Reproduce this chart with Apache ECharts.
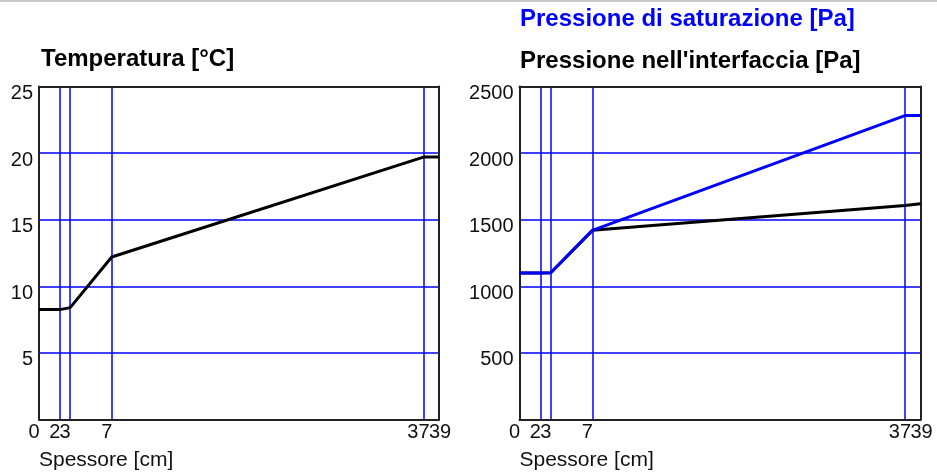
<!DOCTYPE html>
<html><head><meta charset="utf-8">
<script src="https://cdn.jsdelivr.net/npm/echarts@6/dist/echarts.min.js"></script>
<style>html,body{margin:0;padding:0;background:#fff}#c{width:937px;height:474px}</style>
</head><body><div id="c"></div><script>
// Layer boundary positions (cm) and their printed labels
const thickness = [0, 2, 3, 7, 37, 38.5];
const thicknessLabels = ['0', '2', '3', '7', '37', '39'];
const layerBoundaries = [2, 3, 7, 37];
// Series values at each boundary
const temperature = [8.25, 8.25, 8.4, 12.2, 19.7, 19.7];
const saturationPressure = [1100, 1100, 1102, 1420, 2282, 2282];
const interfacePressure = [1100, 1100, 1102, 1420, 1607, 1620];
// Axis ranges
const tempMax = 25, tempStep = 5;
const pressMax = 2500, pressStep = 500;

const FONT = "'Liberation Sans', Arial, sans-serif";
const BLUE = '#0000ff';
const AXIS = '#222';
const X_MAX = thickness[thickness.length - 1];

const pairs = arr => thickness.map((x, i) => [x, arr[i]]);
const labelOf = v => { const i = thickness.indexOf(v); return i >= 0 ? thicknessLabels[i] : ''; };

function xAxes(gi) {
  return [
    {
      gridIndex: gi, type: 'value', min: 0, max: X_MAX, position: 'bottom',
      axisLine: { show: true, onZero: false, lineStyle: { color: AXIS, width: 2 } },
      axisTick: { show: false }, splitLine: { show: false },
      axisLabel: {
        customValues: thickness.slice(0, -1), formatter: labelOf,
        fontFamily: FONT, fontSize: 20, color: '#111', margin: 3, padding: [0, 10, 0, 0],
        hideOverlap: false
      },
      name: 'Spessore [cm]', nameLocation: 'start', nameGap: 0,
      nameTextStyle: { fontFamily: FONT, fontSize: 21, color: '#111', align: 'left', verticalAlign: 'top', padding: [30, 0, 0, 0] },
      z: 3
    },
    {
      gridIndex: gi, type: 'value', min: 0, max: X_MAX, position: 'top',
      axisLine: { show: true, onZero: false, lineStyle: { color: AXIS, width: 2 } },
      axisTick: { show: false }, axisLabel: { show: false }, splitLine: { show: false }, z: 3
    },
    {
      gridIndex: gi, type: 'value', min: 0, max: X_MAX, position: 'bottom',
      axisLine: { show: false }, axisTick: { show: false }, splitLine: { show: false },
      axisLabel: {
        customValues: thickness.slice(-1), formatter: labelOf,
        fontFamily: FONT, fontSize: 20, color: '#111', margin: 3, padding: [0, 0, 0, 2]
      },
      z: 3
    }
  ];
}
function yAxes(gi, max, step) {
  return [
    {
      gridIndex: gi, type: 'value', min: 0, max: max, interval: step, position: 'left',
      axisLine: { show: true, onZero: false, lineStyle: { color: AXIS, width: 2 } },
      axisTick: { show: false },
      axisLabel: { showMinLabel: false, formatter: v => String(v), fontFamily: FONT, fontSize: 20, color: '#111', margin: 6, verticalAlign: 'top', lineHeight: 14 },
      splitLine: { show: true, lineStyle: { color: BLUE, width: 1.5 } }, z: 3
    },
    {
      gridIndex: gi, type: 'value', min: 0, max: max, interval: step, position: 'right',
      axisLine: { show: true, onZero: false, lineStyle: { color: AXIS, width: 2 } },
      axisTick: { show: false }, axisLabel: { show: false }, splitLine: { show: false }, z: 3
    }
  ];
}
function boundaryLines() {
  return {
    silent: true, symbol: 'none', z: 1, animation: false,
    label: { show: false },
    lineStyle: { color: BLUE, width: 1.5, type: 'solid' },
    data: layerBoundaries.map(v => ({ xAxis: v }))
  };
}
const titleStyle = { fontFamily: FONT, fontSize: 24, fontWeight: 'bold', color: '#000' };

const chart = echarts.init(document.getElementById('c'), null, { renderer: 'canvas' });
chart.setOption({
  animation: false,
  backgroundColor: '#fff',
  graphic: [{ type: 'rect', left: 0, top: 0, shape: { width: 937, height: 2 }, style: { fill: '#c8c8c8' }, silent: true }],
  title: [
    { text: 'Temperatura [°C]', left: 41, top: 47, padding: 0, textStyle: titleStyle },
    { text: "Pressione nell'interfaccia [Pa]", left: 520, top: 49, padding: 0, textStyle: titleStyle },
    { text: 'Pressione di saturazione [Pa]', left: 520, top: 7, padding: 0, textStyle: Object.assign({}, titleStyle, { color: BLUE }) }
  ],
  grid: [
    { left: 39, top: 86.5, width: 400, height: 333 },
    { left: 519.5, top: 86.5, width: 401, height: 333 }
  ],
  xAxis: [...xAxes(0), ...xAxes(1)],
  yAxis: [...yAxes(0, tempMax, tempStep), ...yAxes(1, pressMax, pressStep)],
  series: [
    {
      name: 'Temperatura', type: 'line', xAxisIndex: 0, yAxisIndex: 0, data: pairs(temperature),
      showSymbol: false, lineStyle: { color: '#000', width: 3 }, itemStyle: { color: '#000' }, z: 4,
      markLine: boundaryLines()
    },
    {
      name: "Pressione nell'interfaccia", type: 'line', xAxisIndex: 3, yAxisIndex: 2, data: pairs(interfacePressure),
      showSymbol: false, lineStyle: { color: '#000', width: 3 }, itemStyle: { color: '#000' }, z: 4,
      markLine: boundaryLines()
    },
    {
      name: 'Pressione di saturazione', type: 'line', xAxisIndex: 3, yAxisIndex: 2, data: pairs(saturationPressure),
      showSymbol: false, lineStyle: { color: BLUE, width: 3 }, itemStyle: { color: BLUE }, z: 5
    }
  ]
});
</script></body></html>
